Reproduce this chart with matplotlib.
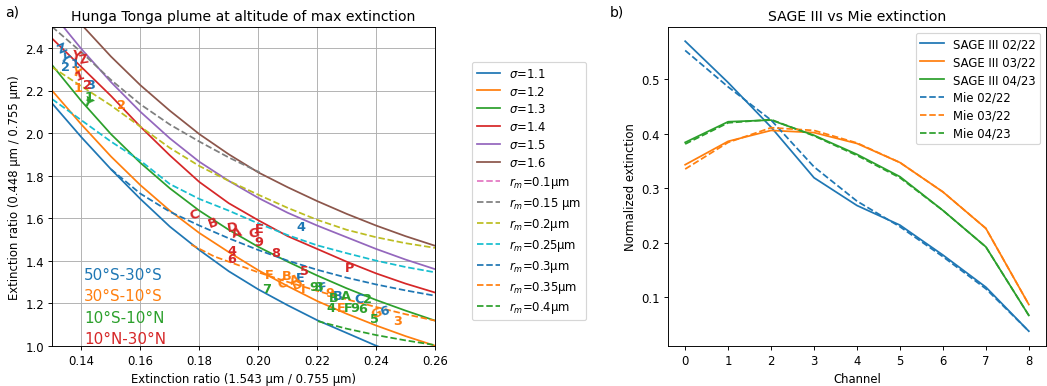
import matplotlib.pyplot as plt

# ---- panel a: Mie curves ----
sig_x = [0.13, 0.14, 0.15, 0.16, 0.17, 0.18, 0.19, 0.20, 0.21, 0.22, 0.23, 0.24, 0.25, 0.26]
sig_11 = [2.14, 1.98, 1.83, 1.69, 1.56, 1.45, 1.35, 1.265, 1.19, 1.12, 1.06, 1.0, 0.95, 0.905]
sig_12 = [2.20, 2.04, 1.89, 1.755, 1.635, 1.53, 1.44, 1.355, 1.28, 1.21, 1.15, 1.095, 1.045, 1.0]
sig_13 = [2.32, 2.15, 1.995, 1.86, 1.74, 1.635, 1.545, 1.465, 1.395, 1.33, 1.27, 1.215, 1.165, 1.118]
sig_14 = [2.445, 2.31, 2.175, 2.03, 1.895, 1.77, 1.67, 1.59, 1.515, 1.455, 1.395, 1.34, 1.292, 1.25]
sig_15 = [2.565, 2.395, 2.24, 2.10, 1.975, 1.865, 1.775, 1.695, 1.625, 1.565, 1.51, 1.455, 1.405, 1.36]
sig_16 = [2.65, 2.51, 2.36, 2.225, 2.105, 1.995, 1.90, 1.815, 1.745, 1.68, 1.62, 1.565, 1.515, 1.47]
sigmas = ['1.1', '1.2', '1.3', '1.4', '1.5', '1.6']

rm010_x, rm010_y = [], []   # off the plotted range
rm015_x = [0.13, 0.14, 0.15, 0.16, 0.17, 0.18, 0.19, 0.2005]
rm015_y = [2.50, 2.38, 2.25, 2.135, 2.04, 1.96, 1.885, 1.815]
rm020_x = sig_x
rm020_y = [2.31, 2.22, 2.13, 2.03, 1.93, 1.845, 1.775, 1.71, 1.648, 1.592, 1.545, 1.51, 1.482, 1.46]
rm025_x = sig_x
rm025_y = [2.16, 2.06, 1.96, 1.87, 1.76, 1.69, 1.635, 1.575, 1.52, 1.472, 1.435, 1.40, 1.37, 1.345]
rm030_x = [0.150, 0.16, 0.17, 0.18, 0.19, 0.20, 0.21, 0.22, 0.23, 0.24, 0.25, 0.26]
rm030_y = [1.83, 1.715, 1.63, 1.565, 1.505, 1.45, 1.40, 1.357, 1.32, 1.288, 1.26, 1.235]
rm035_x = [0.1773, 0.185, 0.19, 0.20, 0.21, 0.22, 0.23, 0.24, 0.25, 0.26]
rm035_y = [1.475, 1.42, 1.395, 1.345, 1.30, 1.258, 1.218, 1.182, 1.148, 1.118]
rm040_x = [0.2203, 0.23, 0.24, 0.25, 0.26]
rm040_y = [1.115, 1.08, 1.05, 1.025, 1.003]
rm_labels = ['0.1µm', '0.15 µm', '0.2µm', '0.25µm', '0.3µm', '0.35µm', '0.4µm']

regions = ['50°S-30°S', '30°S-10°S', '10°S-10°N', '10°N-30°N']
region_y = [1.334, 1.235, 1.134, 1.036]

# observed points: (text, x, y, region index, rotation)
obs = [
    ('Z', 0.1336, 2.400, 0, 25), ('Y', 0.1341, 2.356, 0, -30), ('2', 0.1347, 2.312, 0, 0),
    ('1', 0.1378, 2.328, 0, 0), ('3', 0.1432, 2.230, 0, 0), ('4', 0.2146, 1.561, 0, 0),
    ('E', 0.2143, 1.322, 0, 0), ('F', 0.2220, 1.279, 0, 10), ('B', 0.2270, 1.238, 0, 0),
    ('C', 0.2344, 1.223, 0, 0), ('6', 0.2429, 1.165, 0, 15),
    ('Y', 0.1381, 2.290, 1, -20), ('1', 0.1389, 2.212, 1, 0), ('2', 0.1536, 2.133, 1, 0),
    ('F', 0.2039, 1.337, 1, 0), ('B', 0.2096, 1.332, 1, 0), ('C', 0.2082, 1.295, 1, 20),
    ('A', 0.2124, 1.314, 1, 15), ('D', 0.2135, 1.290, 1, 20), ('I', 0.2154, 1.270, 1, 0),
    ('9', 0.2242, 1.251, 1, 0), ('E', 0.2282, 1.181, 1, 0), ('G', 0.2401, 1.157, 1, 25),
    ('3', 0.2474, 1.118, 1, 0),
    ('Y', 0.1418, 2.149, 2, -30), ('1', 0.1426, 2.171, 2, 0), ('7', 0.2028, 1.270, 2, 0),
    ('9', 0.2188, 1.279, 2, 0), ('3', 0.2204, 1.279, 2, 0), ('B', 0.2256, 1.227, 2, 0),
    ('A', 0.2299, 1.235, 2, 0), ('2', 0.2372, 1.220, 2, 0), ('4', 0.2248, 1.181, 2, 0),
    ('F', 0.2304, 1.181, 2, 0), ('9', 0.2327, 1.181, 2, 0), ('6', 0.2353, 1.173, 2, 0),
    ('5', 0.2395, 1.126, 2, 0),
    ('Y', 0.1381, 2.368, 3, -15), ('Z', 0.1406, 2.348, 3, 10), ('1', 0.1393, 2.274, 3, 20),
    ('2', 0.1420, 2.227, 3, 0), ('C', 0.1785, 1.619, 3, 20), ('B', 0.1847, 1.580, 3, 20),
    ('D', 0.1913, 1.561, 3, 10), ('A', 0.1929, 1.533, 3, 15), ('G', 0.1985, 1.533, 3, 10),
    ('E', 0.2003, 1.549, 3, 0), ('9', 0.2002, 1.491, 3, 0), ('8', 0.2059, 1.436, 3, 0),
    ('4', 0.1911, 1.447, 3, 0), ('6', 0.1911, 1.408, 3, 0), ('5', 0.2158, 1.353, 3, 0),
    ('P', 0.2310, 1.369, 3, 0),
]

# ---- panel b: normalized extinction per channel ----
channels = [0, 1, 2, 3, 4, 5, 6, 7, 8]
sage_0222 = [0.570, 0.494, 0.412, 0.319, 0.268, 0.232, 0.177, 0.118, 0.037]
sage_0322 = [0.343, 0.386, 0.406, 0.402, 0.382, 0.347, 0.293, 0.226, 0.086]
sage_0423 = [0.384, 0.422, 0.425, 0.397, 0.362, 0.321, 0.259, 0.192, 0.066]
mie_0222 = [0.553, 0.486, 0.425, 0.339, 0.276, 0.229, 0.174, 0.115, 0.037]
mie_0322 = [0.335, 0.384, 0.411, 0.406, 0.383, 0.347, 0.293, 0.226, 0.086]
mie_0423 = [0.381, 0.420, 0.426, 0.396, 0.360, 0.319, 0.259, 0.192, 0.066]

W, H, DPI = 1047, 387, 84
fig = plt.figure(figsize=(W / DPI, H / DPI), dpi=DPI)
ax1 = fig.add_axes([52 / W, 40.3 / H, 383 / W, 319 / H])
ax2 = fig.add_axes([668 / W, 40.3 / H, 378 / W, 319 / H])

for s, yv in zip(sigmas, [sig_11, sig_12, sig_13, sig_14, sig_15, sig_16]):
    ax1.plot(sig_x, yv, label=r'$\sigma$=' + s)
rm_data = [(rm010_x, rm010_y), (rm015_x, rm015_y), (rm020_x, rm020_y), (rm025_x, rm025_y),
           (rm030_x, rm030_y), (rm035_x, rm035_y), (rm040_x, rm040_y)]
for lab, (xv, yv) in zip(rm_labels, rm_data):
    ax1.plot(xv, yv, '--', label=r'$r_m$=' + lab)

reg_cols = ['C0', 'C1', 'C2', 'C3']
for t, x, y, r, rot in obs:
    ax1.text(x, y, t, color=reg_cols[r], fontsize=11, fontweight='bold',
             ha='center', va='center', rotation=rot)
for name, y, c in zip(regions, region_y, reg_cols):
    ax1.text(0.1408, y, name, color=c, fontsize=13, va='center')

ax1.set_xlim(0.13, 0.26)
ax1.set_ylim(1.0, 2.5)
ax1.grid(True)
ax1.set_xlabel('Extinction ratio (1.543 µm / 0.755 µm)')
ax1.set_ylabel('Extinction ratio (0.448 µm / 0.755 µm)')
ax1.set_title('Hunga Tonga plume at altitude of max extinction')
fig.legend(*ax1.get_legend_handles_labels(), loc='upper left',
           bbox_to_anchor=(472 / W, 1 - 63 / H), borderaxespad=0, labelspacing=0.42)

ax2.plot(channels, sage_0222, color='C0', label='SAGE III 02/22')
ax2.plot(channels, sage_0322, color='C1', label='SAGE III 03/22')
ax2.plot(channels, sage_0423, color='C2', label='SAGE III 04/23')
ax2.plot(channels, mie_0222, '--', color='C0', label='Mie 02/22')
ax2.plot(channels, mie_0322, '--', color='C1', label='Mie 03/22')
ax2.plot(channels, mie_0423, '--', color='C2', label='Mie 04/23')
ax2.set_xlabel('Channel')
ax2.set_ylabel('Normalized extinction')
ax2.set_title('SAGE III vs Mie extinction')
ax2.legend(loc='upper right', labelspacing=0.42)

fig.text(5 / W, 1 - 12 / H, 'a)', fontsize=12, va='center')
fig.text(610 / W, 1 - 12 / H, 'b)', fontsize=12, va='center')

fig.savefig('out.png', dpi=DPI)
